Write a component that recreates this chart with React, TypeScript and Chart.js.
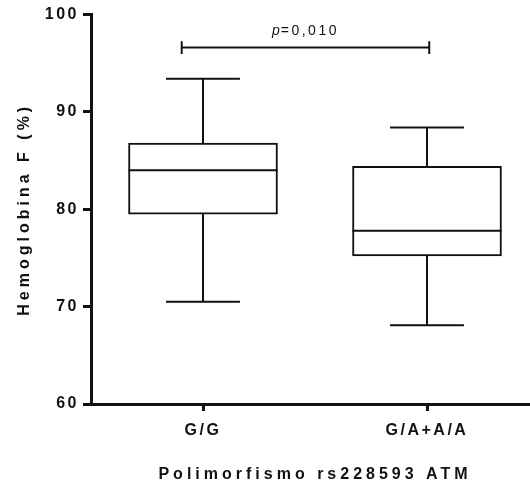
import { useEffect, useRef } from 'react';
import { Chart, registerables } from 'chart.js';

Chart.register(...registerables);

// ---- data ----
const categories = ['G/G', 'G/A+A/A'];
const categoryPositions = [1, 3];
const whiskerLow = [70.5, 68.1];
const quartile1 = [79.5, 75.2];
const medianValues = [84.0, 77.8];
const quartile3 = [86.8, 84.4];
const whiskerHigh = [93.4, 88.4];
const yTickValues = [60, 70, 80, 90, 100];
const bracketStart = 0.81;
const bracketEnd = 3.02;
const bracketLevel = 96.6;
const pValueItalic = 'p';
const pValueRest = '=0,010';
const yTitle = 'Hemoglobina F (%)';
const xTitle = 'Polimorfismo rs228593 ATM';

// ---- style ----
const INK = '#111111';
const FONT = '"Liberation Sans", Arial, Helvetica, sans-serif';
const BOX_HALF = 0.665;
const CAP_HALF = 0.33;
const BRACKET_TICK = 0.65;
const TICK_SPACING = '2.5px';
const TITLE_SPACING = '4px';

type Pt = { x: number; y: number | null };
function segments(list: [number, number, number, number][]): Pt[] {
  const out: Pt[] = [];
  list.forEach(([x1, y1, x2, y2]) => {
    out.push({ x: x1, y: y1 }, { x: x2, y: y2 }, { x: x2, y: null });
  });
  return out;
}

const spacingPlugin = {
  id: 'spacing',
  beforeDraw(chart: any) {
    const ctx = chart.ctx as any;
    ctx.letterSpacing = TICK_SPACING;
    Object.values(chart.scales).forEach((s: any) => {
      if (!s.__wrapped) {
        const orig = s.drawTitle.bind(s);
        s.drawTitle = function (...args: any[]) {
          ctx.letterSpacing = TITLE_SPACING;
          orig(...args);
          ctx.letterSpacing = TICK_SPACING;
        };
        s.__wrapped = true;
      }
    });
  },
  afterDraw(chart: any) {
    (chart.ctx as any).letterSpacing = '0px';
  },
};

const pValuePlugin = {
  id: 'pvalue',
  afterDatasetsDraw(chart: any) {
    const { ctx, scales } = chart;
    const cx = scales.x.getPixelForValue((bracketStart + bracketEnd) / 2);
    const cy = scales.y.getPixelForValue(bracketLevel) - 16;
    ctx.save();
    ctx.fillStyle = INK;
    ctx.textBaseline = 'middle';
    ctx.textAlign = 'left';
    (ctx as any).letterSpacing = '0px';
    ctx.font = `italic 14px ${FONT}`;
    const w1 = ctx.measureText(pValueItalic).width;
    (ctx as any).letterSpacing = '2.5px';
    ctx.font = `14px ${FONT}`;
    const w2 = ctx.measureText(pValueRest).width;
    const startX = cx - (w1 + 1 + w2) / 2;
    (ctx as any).letterSpacing = '0px';
    ctx.font = `italic 14px ${FONT}`;
    ctx.fillText(pValueItalic, startX, cy);
    (ctx as any).letterSpacing = '2.5px';
    ctx.font = `14px ${FONT}`;
    ctx.fillText(pValueRest, startX + w1 + 1, cy);
    ctx.restore();
  },
};

export default function App() {
  const ref = useRef<HTMLCanvasElement>(null);

  useEffect(() => {
    if (!ref.current) return;

    const boxData = categoryPositions.map((x, i) => ({ x, y: [quartile1[i], quartile3[i]] }));
    const medianData = segments(
      categoryPositions.map((x, i) => [x - BOX_HALF, medianValues[i], x + BOX_HALF, medianValues[i]] as [number, number, number, number])
    );
    const whiskerData = segments([
      ...categoryPositions.map((x, i) => [x, whiskerLow[i], x, quartile1[i]] as [number, number, number, number]),
      ...categoryPositions.map((x, i) => [x, quartile3[i], x, whiskerHigh[i]] as [number, number, number, number]),
      ...categoryPositions.map((x, i) => [x - CAP_HALF, whiskerLow[i], x + CAP_HALF, whiskerLow[i]] as [number, number, number, number]),
      ...categoryPositions.map((x, i) => [x - CAP_HALF, whiskerHigh[i], x + CAP_HALF, whiskerHigh[i]] as [number, number, number, number]),
    ]);
    const bracketData = segments([
      [bracketStart, bracketLevel, bracketEnd, bracketLevel],
      [bracketStart, bracketLevel - BRACKET_TICK, bracketStart, bracketLevel + BRACKET_TICK],
      [bracketEnd, bracketLevel - BRACKET_TICK, bracketEnd, bracketLevel + BRACKET_TICK],
    ]);

    const lineStyle = {
      type: 'line' as const,
      borderColor: INK,
      borderWidth: 2,
      pointRadius: 0,
      fill: false,
      tension: 0,
      spanGaps: false,
      order: 0,
      borderCapStyle: 'butt' as const,
    };

    const chart = new Chart(ref.current, {
      data: {
        datasets: [
          {
            type: 'bar',
            data: boxData as any,
            backgroundColor: '#ffffff',
            borderColor: INK,
            borderWidth: 2,
            borderSkipped: false,
            barThickness: 149,
            order: 1,
          } as any,
          { ...lineStyle, data: medianData as any },
          { ...lineStyle, data: whiskerData as any },
          { ...lineStyle, data: bracketData as any },
        ],
      },
      options: {
        responsive: false,
        maintainAspectRatio: false,
        animation: false,
        events: [],
        layout: { padding: { top: 14.5, right: 21, bottom: 0, left: 0 } },
        plugins: {
          legend: { display: false },
          tooltip: { enabled: false },
        },
        scales: {
          x: {
            type: 'linear',
            min: 0,
            max: 4,
            offset: false,
            afterBuildTicks: (scale: any) => {
              scale.ticks = categoryPositions.map((v) => ({ value: v }));
            },
            afterFit: (scale: any) => {
              scale.height = 82;
            },
            ticks: {
              autoSkip: false,
              maxRotation: 0,
              padding: 10,
              color: INK,
              font: { family: FONT, size: 16, weight: 'bold' },
              callback: (v: any) => {
                const i = categoryPositions.indexOf(Number(v));
                return i >= 0 ? categories[i] : '';
              },
            },
            grid: {
              display: true,
              offset: false,
              drawOnChartArea: false,
              drawTicks: true,
              tickLength: 7,
              lineWidth: 3,
              color: INK,
            },
            border: { display: true, width: 3, color: INK },
            title: {
              display: true,
              text: xTitle,
              color: INK,
              font: { family: FONT, size: 16, weight: 'bold' },
              padding: { top: 0, bottom: 2 },
            },
          },
          y: {
            type: 'linear',
            min: 60,
            max: 100,
            afterBuildTicks: (scale: any) => {
              scale.ticks = yTickValues.map((v) => ({ value: v }));
            },
            afterFit: (scale: any) => {
              scale.width = 91;
            },
            ticks: {
              padding: 4,
              color: INK,
              font: { family: FONT, size: 16, weight: 'bold' },
            },
            grid: {
              display: true,
              drawOnChartArea: false,
              drawTicks: true,
              tickLength: 8,
              lineWidth: 3,
              color: INK,
            },
            border: { display: true, width: 3, color: INK },
            title: {
              display: true,
              text: yTitle,
              color: INK,
              font: { family: FONT, size: 16, weight: 'bold' },
              padding: { top: 15, bottom: 0 },
            },
          },
        },
      },
      plugins: [spacingPlugin, pValuePlugin],
    });

    return () => chart.destroy();
  }, []);

  return (
    <div style={{ position: 'absolute', left: 0, top: 0, width: 530, height: 486, overflow: 'hidden', background: '#fff' }}>
      <canvas ref={ref} width={560} height={486} style={{ display: 'block', width: 560, height: 486 }} />
    </div>
  );
}
